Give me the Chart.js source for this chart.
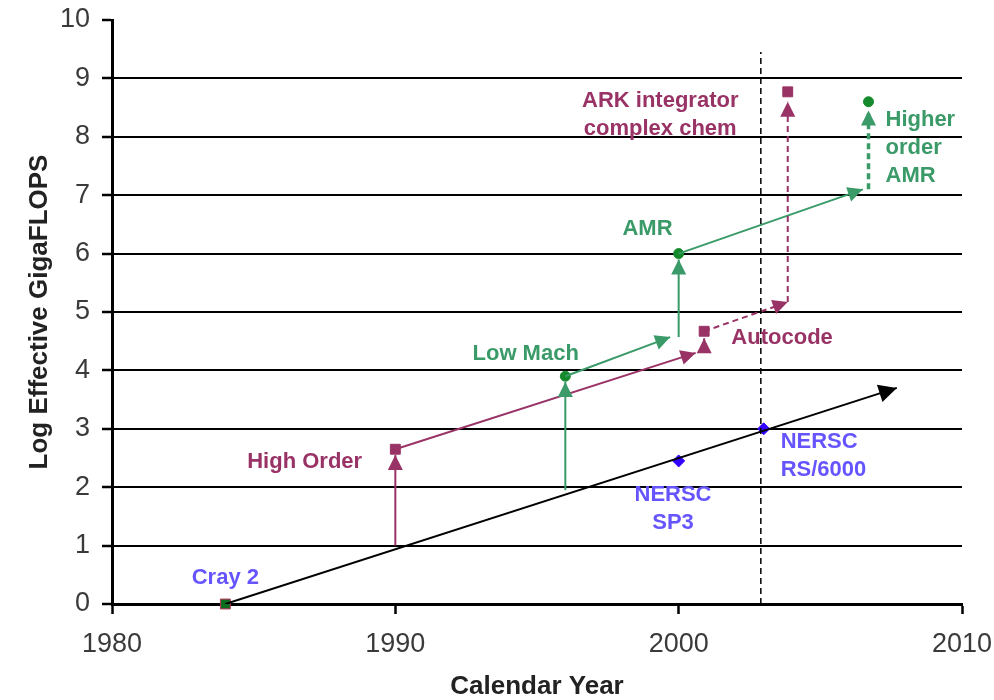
<!DOCTYPE html>
<html>
<head>
<meta charset="utf-8">
<title>Log Effective GigaFLOPS vs Calendar Year</title>
<script src="https://cdn.jsdelivr.net/npm/chart.js@4.4.1/dist/chart.umd.min.js"></script>
<style>
  html, body { margin: 0; padding: 0; background: #fff; }
  canvas { display: block; }
</style>
</head>
<body>
<canvas id="chart" width="994" height="700"></canvas>
<script>
// axes
const yearTicks = [1980, 1990, 2000, 2010];
const gflopsTicks = [0, 1, 2, 3, 4, 5, 6, 7, 8, 9, 10];

// machine peak trend (black arrow)
const trendYears = [1984, 2007.7];
const trendGflops = [0, 3.7];

// machines
const machineYears = [1984, 2000, 2003];
const machineGflops = [0, 2.45, 3.0];
const machineNames = [['Cray 2'], ['NERSC', 'SP3'], ['NERSC', 'RS/6000']];
// dashed "today" line
const todayYear = 2002.9;
const todayTop = 9.45;

// algorithm path A (magenta): [x0, y0, x1, y1]
const magentaSolid = [[1990, 1.0, 1990, 2.55], [1990, 2.65, 2000.6, 4.3], [2000.9, 4.3, 2000.9, 4.55]];
const magentaProjected = [[2000.9, 4.67, 2003.85, 5.17], [2003.85, 5.17, 2003.85, 8.6]];
const magentaYears = [1990, 2000.9, 2003.85];
const magentaGflops = [2.65, 4.67, 8.77];
const magentaNames = [['High Order'], ['Autocode'], ['ARK integrator', 'complex chem']];

// algorithm path B (green)
const greenSolid = [[1996, 1.95, 1996, 3.8], [1996, 3.9, 1999.7, 4.57], [2000, 4.57, 2000, 5.9], [2000, 6.0, 2006.5, 7.1]];
const greenProjected = [[2006.7, 7.1, 2006.7, 8.45]];
const greenYears = [1996, 2000, 2006.7];
const greenGflops = [3.9, 6.0, 8.6];
const greenNames = [['Low Mach'], ['AMR'], ['Higher', 'order', 'AMR']];

const MAGENTA = '#993366';
const GREEN = '#3a9a68';
const DARK_GREEN = '#148a2c';
const BLUE_TEXT = '#6655ff';
const BLUE = '#3300ff';

Chart.defaults.font.family = "'Liberation Sans', Arial, sans-serif";

function segment(s, color, width, dash, arrow) {
    return {
        type: 'line',
        data: [{ x: s[0], y: s[1] }, { x: s[2], y: s[3] }],
        borderColor: color,
        backgroundColor: color,
        borderWidth: width,
        borderDash: dash,
        pointRadius: 0,
        arrowSize: arrow
    };
}

function markers(xs, ys, style, color, radius, border) {
    return {
        type: 'scatter',
        data: xs.map((x, i) => ({ x, y: ys[i] })),
        pointStyle: style,
        pointRadius: radius,
        backgroundColor: color,
        borderColor: border || color,
        borderWidth: 1,
        clip: false
    };
}

const datasets = [
    segment([todayYear, 0, todayYear, todayTop], '#000', 1.5, [6, 4], 0),
    segment([trendYears[0], trendGflops[0], trendYears[1], trendGflops[1]], '#000', 2, [], 18),
    ...magentaSolid.map(s => segment(s, MAGENTA, 2, [], 15)),
    ...magentaProjected.map(s => segment(s, MAGENTA, 2, [6, 4], 15)),
    ...greenSolid.map(s => segment(s, GREEN, 2, [], 15)),
    ...greenProjected.map(s => segment(s, GREEN, 3.5, [6, 4], 15)),
    markers(magentaYears, magentaGflops, 'rect', MAGENTA, 7),
    markers(greenYears, greenGflops, 'circle', DARK_GREEN, 5),
    markers(machineYears.slice(1), machineGflops.slice(1), 'rectRot', BLUE, 6),
    markers(machineYears.slice(0, 1), machineGflops.slice(0, 1), 'rect', '#0a6e1e', 7, '#c03060')
];

// text labels anchored in data units
const labelSpots = [
    { lines: machineNames[0], x: 1984.0, y: 0.45, color: BLUE_TEXT, align: 'center' },
    { lines: machineNames[1], x: 1999.8, y: 1.87, color: BLUE_TEXT, align: 'center' },
    { lines: machineNames[2], x: 2003.6, y: 2.77, color: BLUE_TEXT, align: 'left' },
    { lines: magentaNames[0], x: 1986.8, y: 2.43, color: MAGENTA, align: 'center' },
    { lines: magentaNames[1], x: 2003.65, y: 4.55, color: MAGENTA, align: 'center' },
    { lines: magentaNames[2], x: 1999.35, y: 8.61, color: MAGENTA, align: 'center' },
    { lines: greenNames[0], x: 1994.6, y: 4.28, color: GREEN, align: 'center' },
    { lines: greenNames[1], x: 1998.9, y: 6.42, color: GREEN, align: 'center' },
    { lines: greenNames[2], x: 2007.3, y: 8.29, color: GREEN, align: 'left' }
];

const arrowHeads = {
    id: 'arrowHeads',
    afterDatasetsDraw(chart) {
        const ctx = chart.ctx;
        chart.data.datasets.forEach((ds, i) => {
            if (!ds.arrowSize) return;
            const pts = chart.getDatasetMeta(i).data;
            const a = pts[pts.length - 2], b = pts[pts.length - 1];
            const ang = Math.atan2(b.y - a.y, b.x - a.x);
            const len = ds.arrowSize, half = len * 0.5;
            ctx.save();
            ctx.translate(b.x, b.y);
            ctx.rotate(ang);
            ctx.fillStyle = ds.borderColor;
            ctx.beginPath();
            ctx.moveTo(0, 0);
            ctx.lineTo(-len, -half);
            ctx.lineTo(-len, half);
            ctx.closePath();
            ctx.fill();
            ctx.restore();
        });
    }
};

const textLabels = {
    id: 'textLabels',
    afterDraw(chart) {
        const { ctx, scales } = chart;
        ctx.save();
        ctx.font = "bold 22px 'Liberation Sans', Arial, sans-serif";
        ctx.textBaseline = 'middle';
        labelSpots.forEach(l => {
            const px = scales.x.getPixelForValue(l.x);
            const py = scales.y.getPixelForValue(l.y);
            ctx.fillStyle = l.color;
            ctx.textAlign = l.align;
            l.lines.forEach((t, k) => ctx.fillText(t, px, py + k * 28));
        });
        ctx.restore();
    }
};

new Chart(document.getElementById('chart'), {
    type: 'scatter',
    data: { datasets },
    options: {
        responsive: false,
        animation: false,
        layout: { padding: { top: 20, right: 32, left: 0, bottom: 0 } },
        plugins: { legend: { display: false }, tooltip: { enabled: false } },
        scales: {
            x: {
                type: 'linear',
                min: yearTicks[0],
                max: yearTicks[yearTicks.length - 1],
                afterBuildTicks: s => { s.ticks = yearTicks.map(v => ({ value: v })); },
                afterFit: s => { s.height = 96; s.paddingLeft = 0; s.paddingRight = 0; },
                ticks: { font: { size: 27 }, color: '#3a3a3a', padding: 14, callback: v => String(v) },
                grid: { drawOnChartArea: false, tickLength: 10, tickColor: '#000', tickWidth: 2.5 },
                border: { color: '#000', width: 3 },
                title: {
                    display: true,
                    text: 'Calendar Year',
                    font: { size: 26, weight: 'bold' },
                    color: '#222',
                    padding: { top: 0, bottom: -2 }
                }
            },
            y: {
                min: gflopsTicks[0],
                max: gflopsTicks[gflopsTicks.length - 1],
                afterBuildTicks: s => { s.ticks = gflopsTicks.map(v => ({ value: v })); },
                afterFit: s => { s.width = 112; s.paddingTop = 0; s.paddingBottom = 0; },
                ticks: { font: { size: 27 }, color: '#3a3a3a', padding: 12 },
                grid: {
                    color: c => (c.tick && c.tick.value === 10 ? 'rgba(0,0,0,0)' : '#000'),
                    lineWidth: 2,
                    tickLength: 10,
                    tickColor: '#000',
                    tickWidth: 2.5
                },
                border: { color: '#000', width: 3 },
                title: {
                    display: true,
                    text: 'Log Effective GigaFLOPS',
                    font: { size: 26, weight: 'bold' },
                    color: '#222',
                    padding: { top: 24, bottom: 0 }
                }
            }
        }
    },
    plugins: [arrowHeads, textLabels]
});
</script>
</body>
</html>
